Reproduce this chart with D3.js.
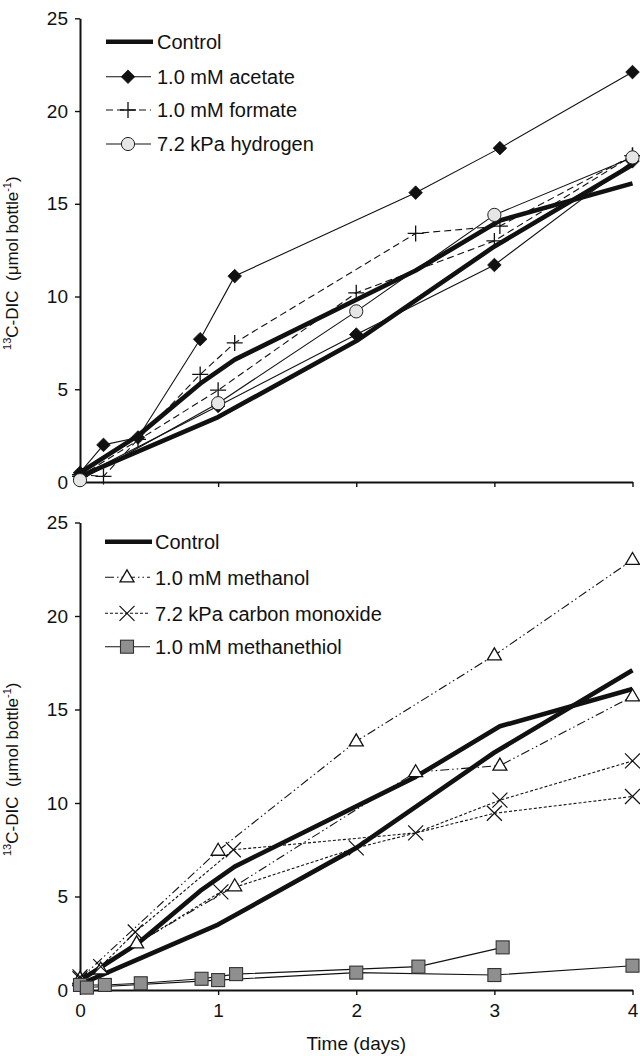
<!DOCTYPE html>
<html><head><meta charset="utf-8">
<script src="https://cdn.jsdelivr.net/npm/d3@7"></script>
<style>
html,body{margin:0;padding:0;background:#fff;}
svg{display:block;font-family:"Liberation Sans",Arial,Helvetica,sans-serif;}
</style></head>
<body>
<svg id="chart" width="640" height="1056"></svg>
<script>
// ---------- data (time in days, 13C-DIC in µmol bottle-1) ----------
const xTicks = [0, 1, 2, 3, 4];
const yTicks = [0, 5, 10, 15, 20, 25];

const controlA = [[0,0.5],[0.42,2.5],[0.87,5.3],[1.12,6.6],[2.43,11.4],[3.04,14.1],[4,16.1]];
const controlB = [[0,0.3],[1,3.5],[2,7.6],[3,12.7],[4,17.1]];

const acetateA = [[0,0.5],[0.17,2.0],[0.42,2.4],[0.87,7.7],[1.12,11.1],[2.43,15.6],[3.04,18.0],[4,22.1]];
const acetateB = [[0,0.3],[1,4.1],[2,7.95],[3,11.7],[4,17.3]];
const formateA = [[0,0.4],[0.17,0.3],[0.42,2.3],[0.87,5.8],[1.12,7.5],[2.43,13.4],[3.04,13.8],[4,17.6]];
const formateB = [[0,0.3],[1,4.95],[2,10.2],[3,13.0],[4,17.6]];
const hydrogen = [[0,0.1],[1,4.25],[2,9.2],[3,14.4],[4,17.5]];

const methanolA = [[0,0.5],[0.15,1.1],[0.41,2.5],[1.12,5.55],[2.43,11.65],[3.04,12.0],[4,15.7]];
const methanolB = [[0,0.6],[1,7.45],[2,13.3],[3,17.9],[4,23.0]];
const carbonMonoxideA = [[0,0.7],[0.15,1.25],[0.4,3.1],[1.11,7.5],[2.43,8.4],[3.04,10.15],[4,12.25]];
const carbonMonoxideB = [[0,0.6],[1.02,5.25],[2,7.6],[3,9.45],[4,10.35]];
const methanethiolA = [[0,0.27],[0.18,0.27],[0.44,0.36],[0.88,0.6],[1.13,0.85],[2.45,1.25],[3.06,2.28]];
const methanethiolB = [[0.05,0.13],[1,0.53],[2,0.93],[3,0.8],[4,1.3]];

const topLegend = ["Control", "1.0 mM acetate", "1.0 mM formate", "7.2 kPa hydrogen"];
const bottomLegend = ["Control", "1.0 mM methanol", "7.2 kPa carbon monoxide", "1.0 mM methanethiol"];
const xLabel = "Time (days)";

// ---------- styles ----------
const styles = {
  control:  {width:4.6, dash:null},
  acetate:  {width:1.1, dash:null, marker:"diamond"},
  formate:  {width:1.1, dash:"7,4", marker:"plus"},
  hydrogen: {width:1.1, dash:null, marker:"circle"},
  methanol: {width:1.1, dash:"9,3,1.5,3,1.5,3", marker:"triangle"},
  co:       {width:1.1, dash:"3,2", marker:"cross"},
  thiol:    {width:1.1, dash:null, marker:"square"}
};

const svg = d3.select("#chart");
const x = d3.scaleLinear().domain([0,4]).range([80, 632.5]);

function drawMarker(g, type, px, py){
  if(type==="diamond"){
    const s=6.8;
    g.append("path").attr("d",`M${px},${py-s}L${px+s},${py}L${px},${py+s}L${px-s},${py}Z`)
      .attr("fill","#111").attr("stroke","#111").attr("stroke-width",0.8);
  } else if(type==="plus"){
    const s=8;
    g.append("path").attr("d",`M${px-s},${py}H${px+s}M${px},${py-s}V${py+s}`)
      .attr("stroke","#111").attr("stroke-width",1.3).attr("fill","none");
  } else if(type==="circle"){
    g.append("circle").attr("cx",px).attr("cy",py).attr("r",6.6)
      .attr("fill","#e6e6e6").attr("stroke","#222").attr("stroke-width",1);
  } else if(type==="triangle"){
    const w=7, h=12;
    g.append("path").attr("d",`M${px},${py-h*0.62}L${px+w},${py+h*0.38}L${px-w},${py+h*0.38}Z`)
      .attr("fill","#fff").attr("stroke","#111").attr("stroke-width",1.3);
  } else if(type==="cross"){
    const s=7.5;
    g.append("path").attr("d",`M${px-s},${py-s}L${px+s},${py+s}M${px+s},${py-s}L${px-s},${py+s}`)
      .attr("stroke","#111").attr("stroke-width",1.2).attr("fill","none");
  } else if(type==="square"){
    const s=6.5;
    g.append("rect").attr("x",px-s).attr("y",py-s).attr("width",2*s).attr("height",2*s)
      .attr("fill","#8f8f8f").attr("stroke","#333").attr("stroke-width",1.1);
  }
}

function panel(opts){
  const y = d3.scaleLinear().domain([0,25]).range([opts.y0, opts.y25]);
  const g = svg.append("g");
  const line = d3.line().x(d=>x(d[0])).y(d=>y(d[1]));

  // axes
  const ya = g.append("g").attr("transform",`translate(${x(0)},0)`)
    .call(d3.axisLeft(y).tickValues(yTicks).tickSize(5).tickSizeOuter(0).tickPadding(7));
  const xa = g.append("g").attr("transform",`translate(0,${opts.y0})`)
    .call(d3.axisBottom(x).tickValues(xTicks).tickSize(5).tickSizeOuter(0).tickPadding(9)
      .tickFormat(opts.xLabels ? d3.format("d") : ""));
  [ya, xa].forEach(a=>{
    a.select(".domain").attr("stroke","#111").attr("stroke-width",2);
    a.selectAll(".tick line").attr("stroke","#111").attr("stroke-width",1.4);
    a.selectAll("text").attr("font-size",19).attr("fill","#111")
      .attr("font-family",'"Liberation Sans",Arial,sans-serif');
  });

  // y label
  const cy = (opts.y0 + opts.y25)/2 + 13;
  const t = g.append("text").attr("transform",`translate(18,${cy}) rotate(-90)`)
    .attr("text-anchor","middle").attr("font-size",17).attr("fill","#111");
  t.append("tspan").attr("font-size",11).attr("dy",-7).text("13");
  t.append("tspan").attr("dy",7).text("C-DIC\u00a0\u00a0(\u03bcmol bottle");
  t.append("tspan").attr("font-size",11).attr("dy",-7).text("-1");
  t.append("tspan").attr("dy",7).text(")");

  // series lines
  opts.series.forEach(s=>{
    const st = styles[s.style];
    g.append("path").datum(s.data).attr("d",line).attr("fill","none")
      .attr("stroke","#111").attr("stroke-width",st.width)
      .attr("stroke-linejoin","round")
      .attr("stroke-dasharray",st.dash);
  });
  // markers
  opts.series.forEach(s=>{
    const st = styles[s.style];
    if(!st.marker) return;
    s.data.forEach(d=>drawMarker(g, st.marker, x(d[0]), y(d[1])));
  });

  // legend
  opts.legend.forEach((name,i)=>{
    const st = styles[opts.legendStyles[i]];
    const ly = opts.legendY[i];
    const x1 = opts.legendX0, x2 = st.marker ? opts.legendX0+45 : opts.legendX0+47;
    g.append("line").attr("x1",x1).attr("x2",x2).attr("y1",ly).attr("y2",ly)
      .attr("stroke","#111").attr("stroke-width",st.width).attr("stroke-dasharray",st.dash);
    if(st.marker) drawMarker(g, st.marker, x1+22, ly);
    g.append("text").attr("x",opts.legendTextX).attr("y",ly).attr("dy","0.36em")
      .attr("font-size",20).attr("fill","#111").text(name);
  });
}

panel({
  y0:482, y25:18.3, xLabels:false,
  series:[
    {data:controlA, style:"control"},
    {data:controlB, style:"control"},
    {data:acetateA, style:"acetate"},
    {data:acetateB, style:"acetate"},
    {data:formateA, style:"formate"},
    {data:formateB, style:"formate"},
    {data:hydrogen, style:"hydrogen"}
  ],
  legend: topLegend, legendStyles:["control","acetate","formate","hydrogen"],
  legendY:[41.7, 76.7, 110, 144], legendX0:106, legendTextX:157
});

panel({
  y0:990, y25:522.5, xLabels:true,
  series:[
    {data:controlA, style:"control"},
    {data:controlB, style:"control"},
    {data:methanolA, style:"methanol"},
    {data:methanolB, style:"methanol"},
    {data:carbonMonoxideA, style:"co"},
    {data:carbonMonoxideB, style:"co"},
    {data:methanethiolA, style:"thiol"},
    {data:methanethiolB, style:"thiol"}
  ],
  legend: bottomLegend, legendStyles:["control","methanol","co","thiol"],
  legendY:[541.7, 577.3, 613.3, 646.7], legendX0:105, legendTextX:155
});

svg.append("text").attr("x", x(2)).attr("y", 1043).attr("dy","0.36em")
  .attr("text-anchor","middle").attr("font-size",19).attr("fill","#111").text(xLabel);
</script>
</body></html>
